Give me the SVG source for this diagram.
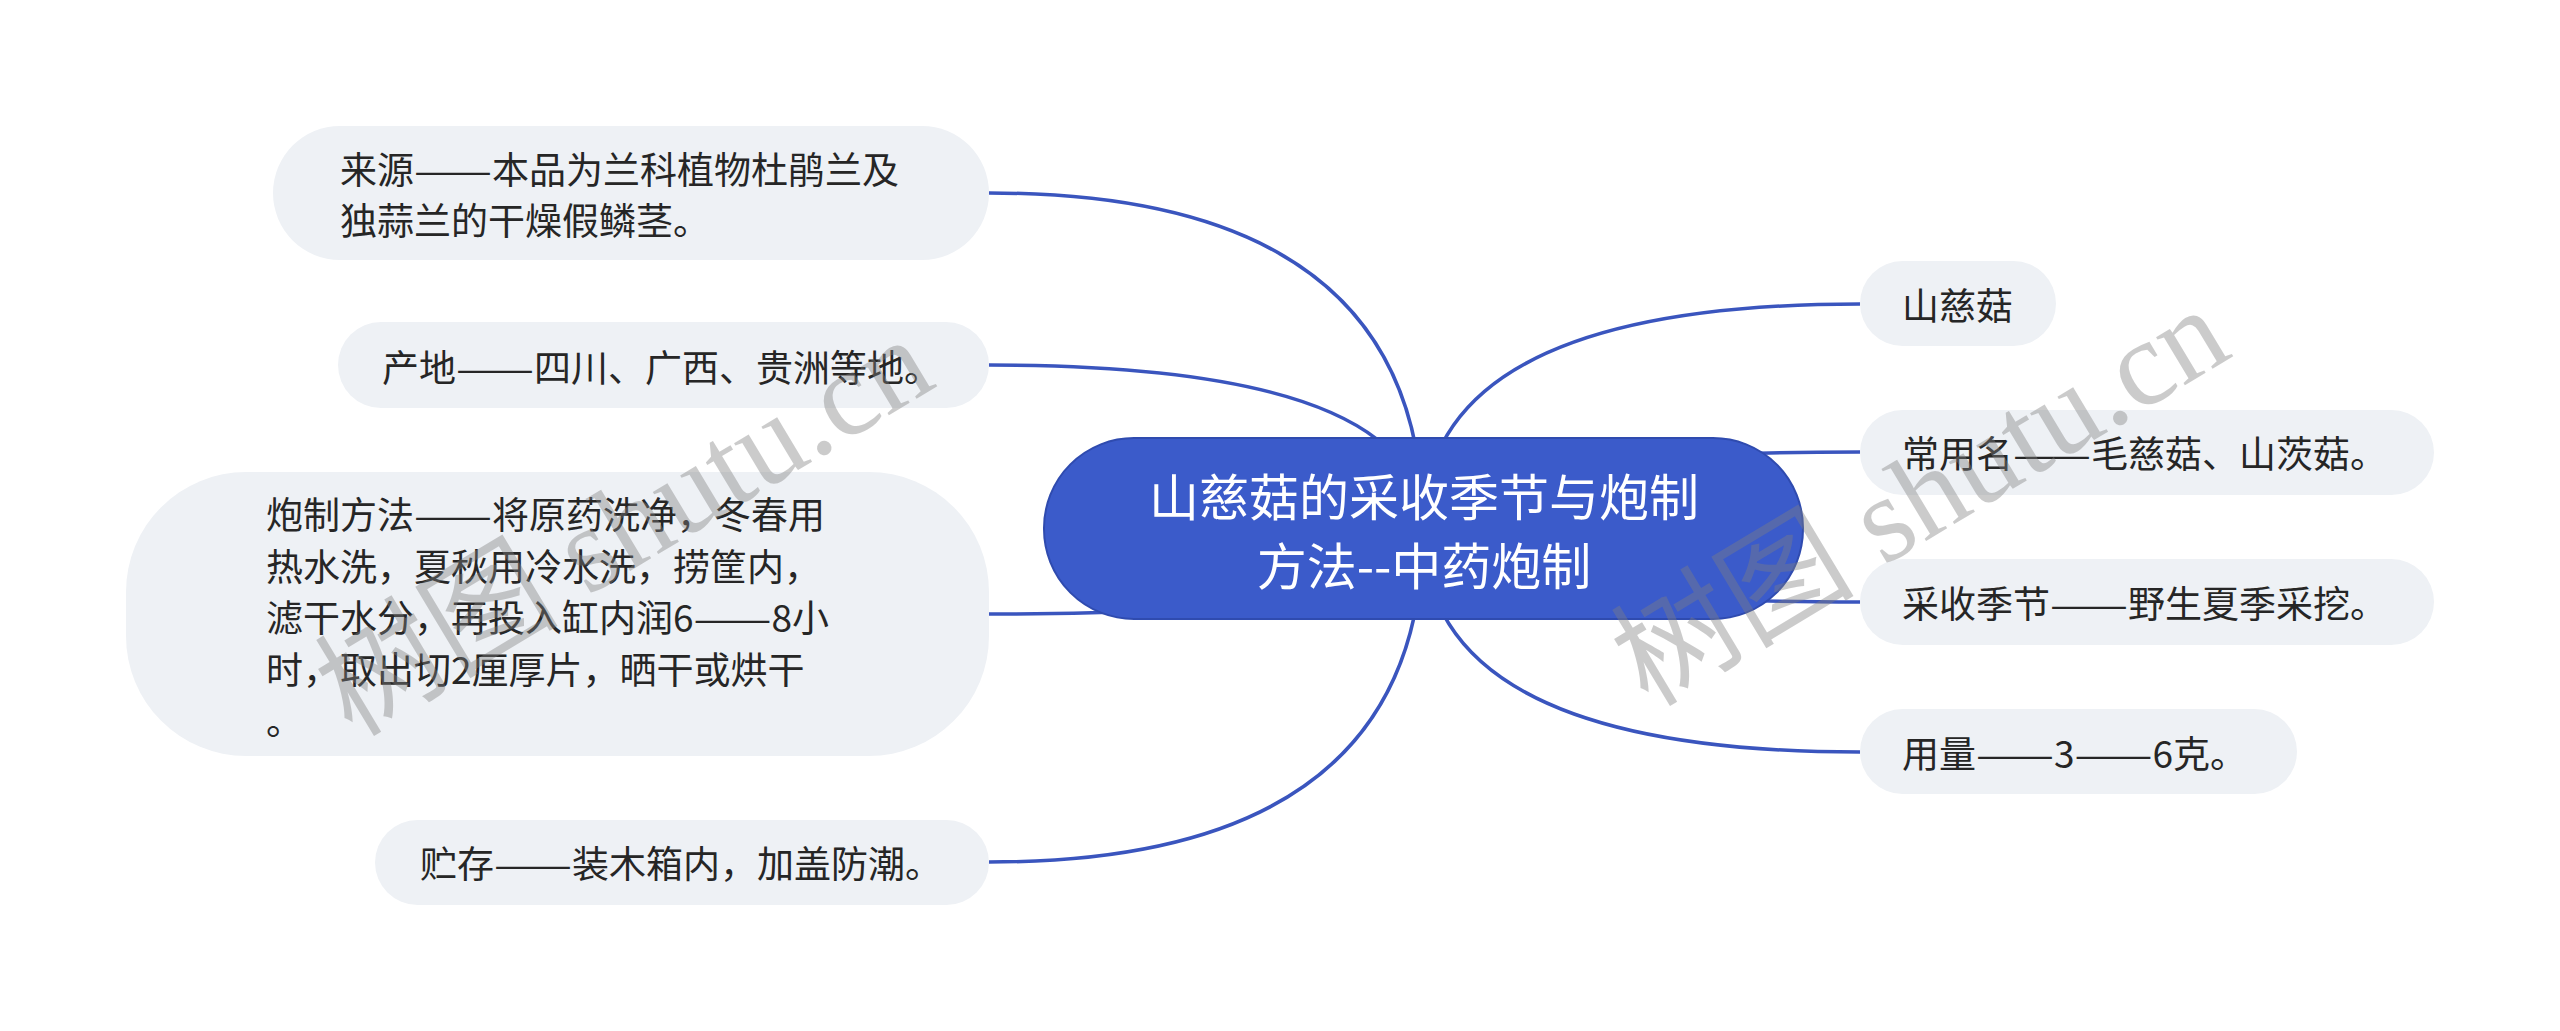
<svg xmlns="http://www.w3.org/2000/svg" width="2560" height="1031" viewBox="0 0 2560 1031">
  <style>
    .node { fill: #EEF1F5; }
    .txt { font-family: "Noto Sans CJK SC", "Liberation Sans", sans-serif; font-size: 37px; fill: #262626; dominant-baseline: central; }
    .ctxt { font-family: "Noto Sans CJK SC", "Liberation Sans", sans-serif; font-size: 50px; fill: #FFFFFF; dominant-baseline: central; text-anchor: middle; }
    .link { fill: none; stroke: #3A55BE; stroke-width: 3.5; }
    .wm { font-family: "Liberation Serif", "Noto Sans CJK SC", serif; font-size: 122px; fill: #808080; opacity: 0.4; }
  </style>
  <rect width="2560" height="1031" fill="#FFFFFF"/>
  <g id="connectors">
    <path class="link" d="M1423 528 Q1423 193 989 193"/>
    <path class="link" d="M1423 528 Q1423 365 989 365"/>
    <path class="link" d="M1423 528 Q1423 614 989 614"/>
    <path class="link" d="M1423 528 Q1423 862 989 862"/>
    <path class="link" d="M1423 528 Q1423 304 1860 304"/>
    <path class="link" d="M1423 528 Q1423 452 1860 452"/>
    <path class="link" d="M1423 528 Q1423 602 1860 602"/>
    <path class="link" d="M1423 528 Q1423 752 1860 752"/>
  </g>
  <g id="root">
    <rect x="1044" y="438" width="759" height="181" rx="90" ry="90" fill="#3B5BCA" stroke="#2F4BAF" stroke-width="2"/>
    <text class="ctxt" x="1424" y="494">山慈菇的采收季节与炮制</text>
    <text class="ctxt" x="1424" y="563">方法--中药炮制</text>
  </g>
  <g id="n1">
    <rect class="node" x="273" y="126" width="716" height="134" rx="67" ry="67"/>
    <text class="txt" x="340" y="168">来源<tspan textLength="78" lengthAdjust="spacingAndGlyphs">——</tspan>本品为兰科植物杜鹃兰及</text>
    <text class="txt" x="340" y="219">独蒜兰的干燥假鳞茎。</text>
  </g>
  <g id="n2">
    <rect class="node" x="338" y="322" width="651" height="86" rx="43" ry="43"/>
    <text class="txt" x="382" y="366">产地<tspan textLength="78" lengthAdjust="spacingAndGlyphs">——</tspan>四川、广西、贵洲等地。</text>
  </g>
  <g id="n3">
    <rect class="node" x="126" y="472" width="863" height="284" rx="120" ry="120"/>
    <text class="txt" x="266" y="513">炮制方法<tspan textLength="78" lengthAdjust="spacingAndGlyphs">——</tspan>将原药洗净，冬春用</text>
    <text class="txt" x="266" y="564.5">热水洗，夏秋用冷水洗，捞筐内，</text>
    <text class="txt" x="266" y="616">滤干水分，再投入缸内润6<tspan textLength="78" lengthAdjust="spacingAndGlyphs">——</tspan>8小</text>
    <text class="txt" x="266" y="667.5">时，取出切2厘厚片，晒干或烘干</text>
    <text class="txt" x="266" y="719">。</text>
  </g>
  <g id="n4">
    <rect class="node" x="375" y="820" width="614" height="85" rx="42.5" ry="42.5"/>
    <text class="txt" x="420" y="862">贮存<tspan textLength="78" lengthAdjust="spacingAndGlyphs">——</tspan>装木箱内，加盖防潮。</text>
  </g>
  <g id="n5">
    <rect class="node" x="1860" y="261" width="196" height="85" rx="42.5" ry="42.5"/>
    <text class="txt" x="1902" y="304">山慈菇</text>
  </g>
  <g id="n6">
    <rect class="node" x="1860" y="410" width="574" height="85" rx="42.5" ry="42.5"/>
    <text class="txt" x="1902" y="452">常用名<tspan textLength="78" lengthAdjust="spacingAndGlyphs">——</tspan>毛慈菇、山茨菇。</text>
  </g>
  <g id="n7">
    <rect class="node" x="1860" y="559" width="574" height="86" rx="43" ry="43"/>
    <text class="txt" x="1902" y="602">采收季节<tspan textLength="78" lengthAdjust="spacingAndGlyphs">——</tspan>野生夏季采挖。</text>
  </g>
  <g id="n8">
    <rect class="node" x="1860" y="709" width="437" height="85" rx="42.5" ry="42.5"/>
    <text class="txt" x="1902" y="752">用量<tspan textLength="78" lengthAdjust="spacingAndGlyphs">——</tspan>3<tspan textLength="78" lengthAdjust="spacingAndGlyphs">——</tspan>6克。</text>
  </g>
  <g id="watermark">
    <text class="wm" transform="translate(1648 708) rotate(-31)">树图 shutu.cn</text>
    <text class="wm" transform="translate(352 738) rotate(-31)">树图 shutu.cn</text>
  </g>
</svg>
